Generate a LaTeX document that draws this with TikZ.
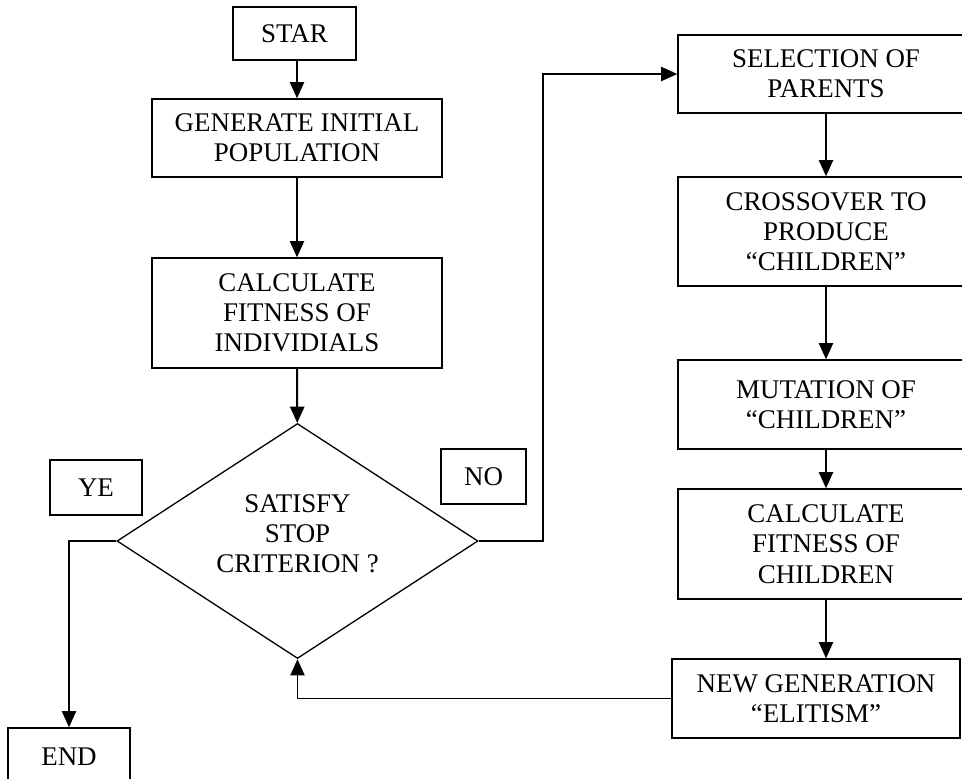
\documentclass[tikz,border=0pt]{standalone}
\usepackage{fontspec}
\setmainfont{Liberation Serif}
\usetikzlibrary{shapes.geometric,arrows.meta,positioning}
\newcommand{\pxu}{0.46pt}

\begin{document}
\begin{tikzpicture}[x=0.46pt,y=-0.46pt]
    \tikzset{
        block/.style = {rectangle, draw=black, line width=0.6pt, align=center, inner sep=0pt, font=\fontsize{12.4}{13.9}\selectfont},
        decision/.style = {diamond, aspect=1.54, draw=black, line width=0.6pt, align=center, inner sep=0pt, font=\fontsize{12.4}{13.9}\selectfont},
        line/.style = {draw=black, line width=0.9pt, -{Triangle[length=7.5pt,width=6.5pt]}},
    }
    \useasboundingbox (0,0) rectangle (962,778);

    % left column
    \node[block, minimum width=123*\pxu, minimum height=53*\pxu](star) at (294.5,33.5){STAR};

    \node[block, minimum width=290*\pxu, minimum height=78*\pxu](generate) at (297,138){GENERATE INITIAL\\POPULATION};

    \node[block, minimum width=290*\pxu, minimum height=110*\pxu](fitness) at (297,313){CALCULATE\\FITNESS OF\\INDIVIDIALS};

    \node[decision, minimum width=361*\pxu, minimum height=235*\pxu](satisfy) at (297.5,541){SATISFY\\STOP\\CRITERION ?\\[-7pt]\mbox{}};

    \node[block, minimum width=92*\pxu, minimum height=55*\pxu](yes) at (96,487.5){YE};

    \node[block, minimum width=85*\pxu, minimum height=55*\pxu](no) at (483.5,476.5){NO};

    \node[block, minimum width=122*\pxu, minimum height=58*\pxu](finish) at (69,757){END};

    % right column
    \node[block, minimum width=296*\pxu, minimum height=78*\pxu](select) at (826,74){SELECTION OF\\PARENTS};

    \node[block, minimum width=296*\pxu, minimum height=109*\pxu](crossover) at (826,231.5){CROSSOVER TO\\PRODUCE\\“CHILDREN”};

    \node[block, minimum width=296*\pxu, minimum height=89*\pxu](mutation) at (826,404.5){MUTATION OF\\“CHILDREN”};

    \node[block, minimum width=296*\pxu, minimum height=110*\pxu](childfit) at (826,544){CALCULATE\\FITNESS OF\\CHILDREN};

    \node[block, minimum width=288*\pxu, minimum height=79*\pxu](newgen) at (816,698.5){NEW GENERATION\\“ELITISM”};

    \coordinate (nojog) at (543,541);

    \path [line] (generate.north |- star.south) -- (generate);
    \path [line] (generate) -- (fitness);
    \path [line] (fitness) -- (satisfy);
    \path [line] (satisfy.west) -| (finish.north);
    \path [line] (satisfy.east) -- (nojog) |- (select.west);
    \path [line] (select) -- (crossover);
    \path [line] (crossover) -- (mutation);
    \path [line] (mutation) -- (childfit);
    \path [line] (childfit.south) -- (childfit.south |- newgen.north);
    \path [line] (newgen.west) -| (satisfy.south);

\end{tikzpicture}
\end{document}
